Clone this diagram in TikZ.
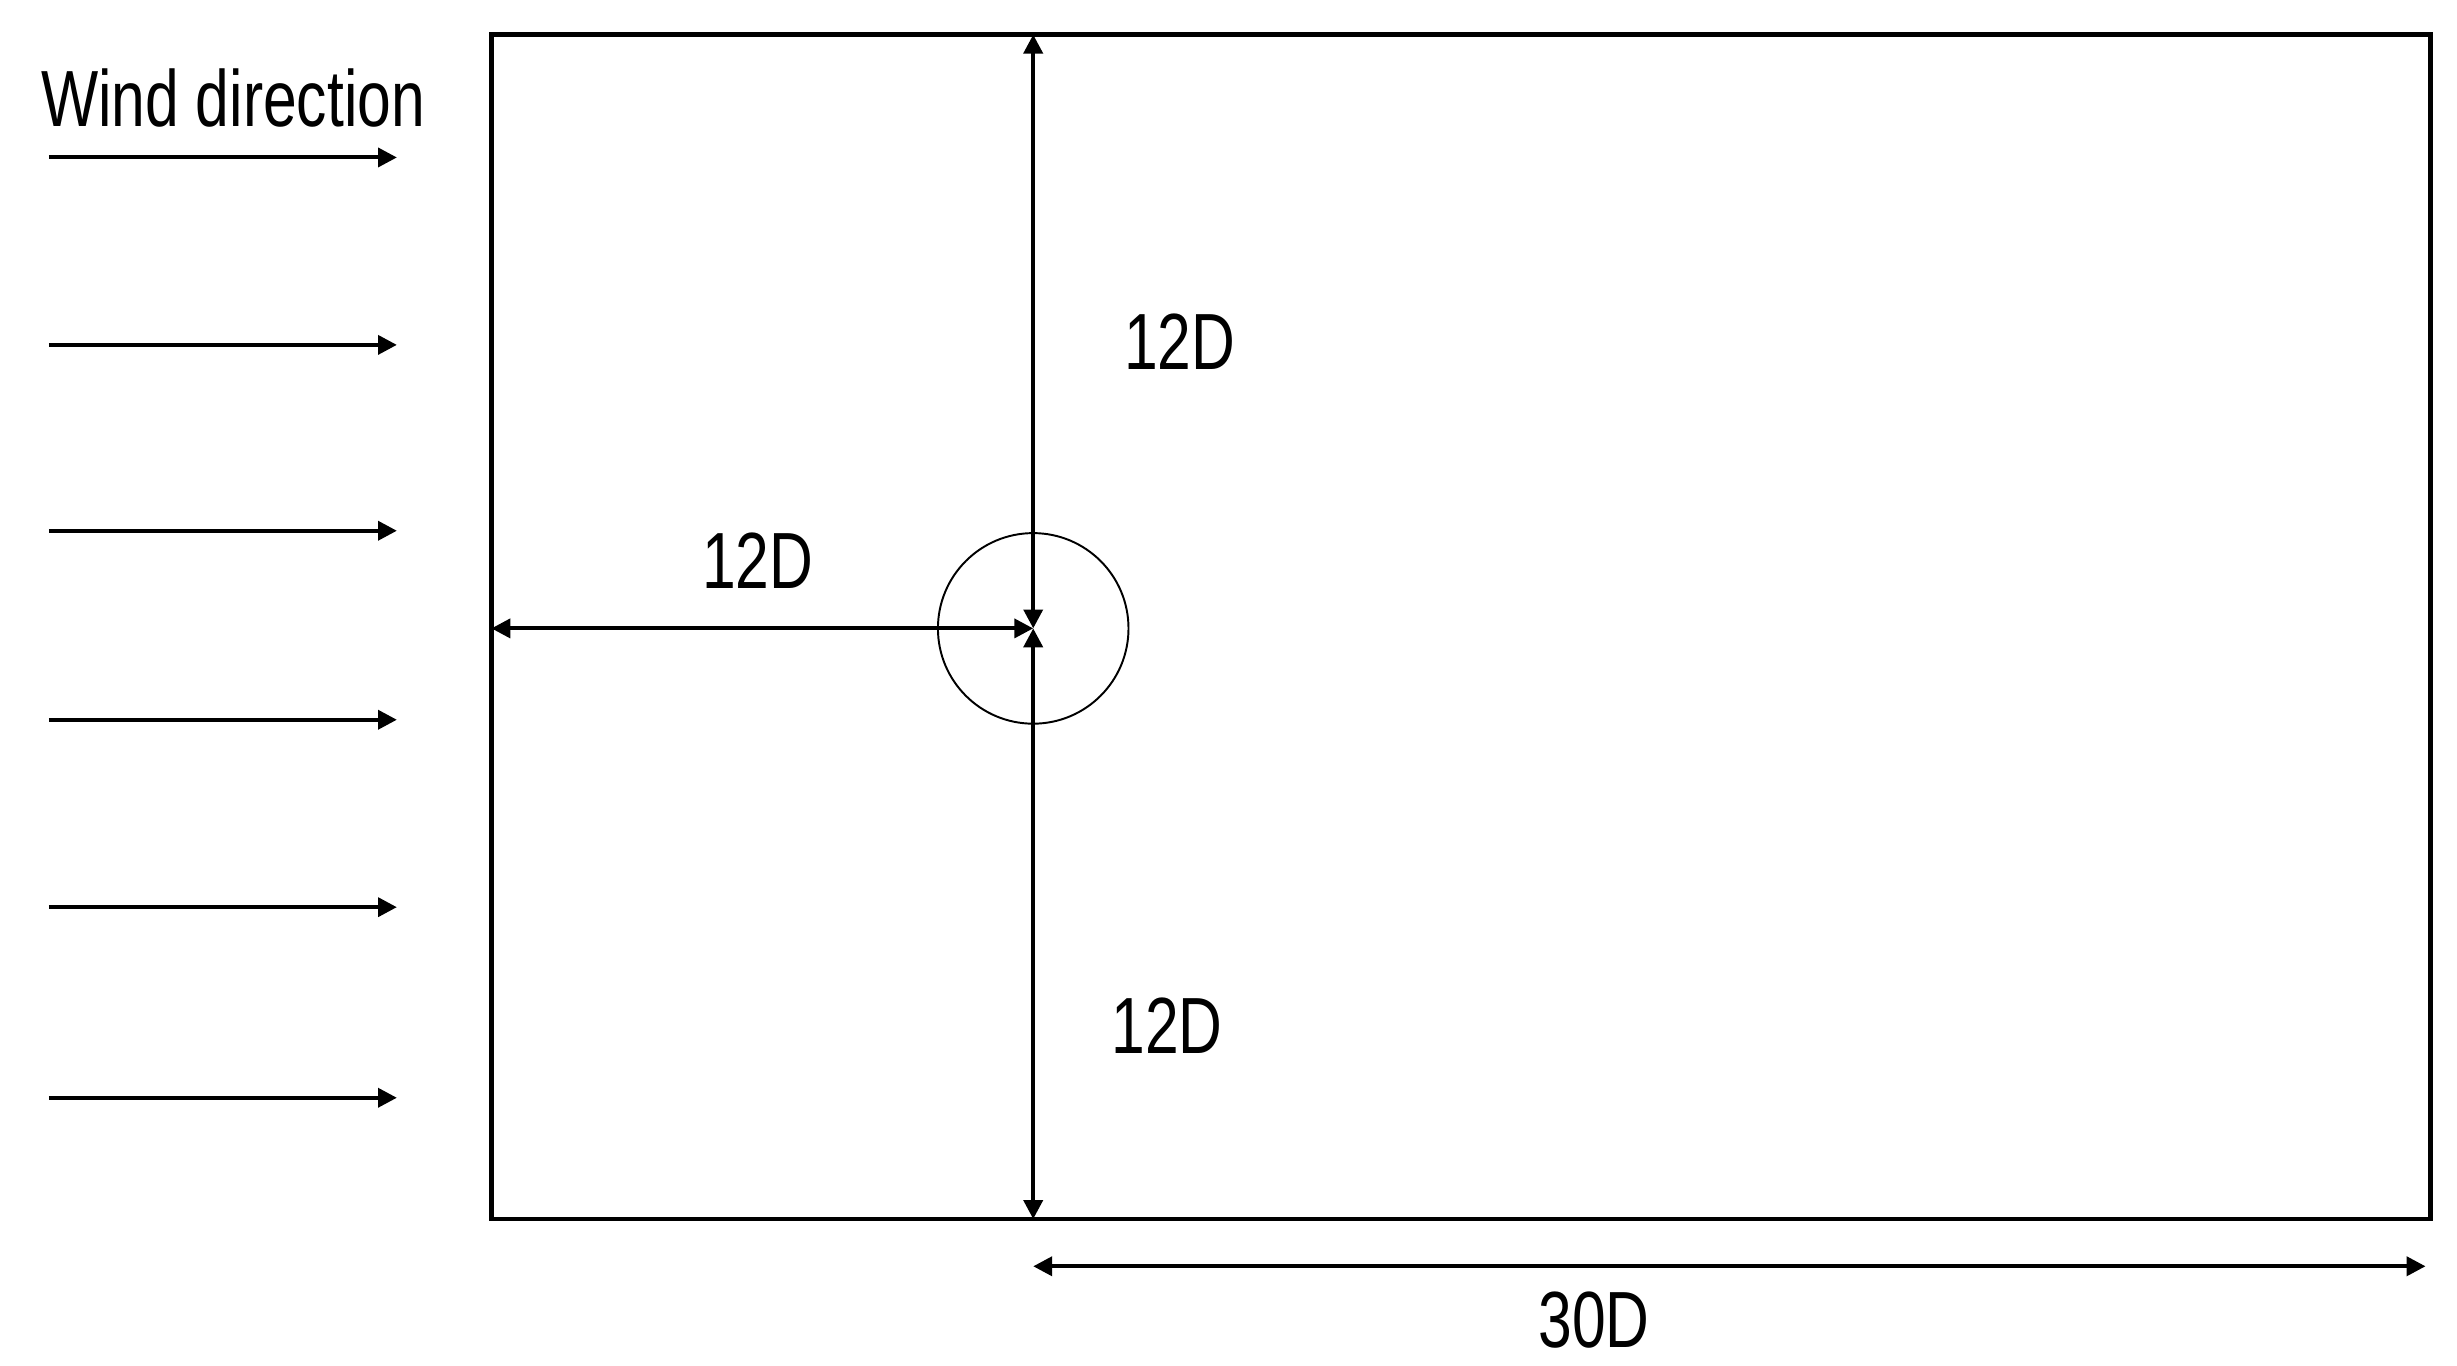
\documentclass[tikz,border=0pt]{standalone}
\usepackage{fontspec}
\setmainfont{Liberation Sans}[FakeStretch=0.76]
\usetikzlibrary{arrows.meta}

\begin{document}
\begin{tikzpicture}[>={Triangle[length=.12cm, width=.12cm]},
        dim/.style={<->, line width=.72pt},
        wind/.style={->, line width=.72pt},
        lbl/.style={font=\fontsize{14.4}{17}\selectfont, inner sep=0pt}]
        \useasboundingbox (0,0) rectangle (15.6,8.67);

        % domain
        \coordinate (sw) at (3.12,0.93);
        \coordinate (ne) at (15.43,8.45);
        \draw[line width=.85pt] (sw) rectangle (ne);

        % cylinder
        \coordinate (c) at (6.56,4.68);
        \draw[line width=.35pt] (c) circle (.605);
        \coordinate (top) at (c |- ne);
        \coordinate (bot) at (c |- sw);
        \coordinate (inlet) at (c -| sw);
        \draw[dim] (c) -- (top);
        \draw[dim] (c) -- (bot);
        \draw[dim] (inlet) -- (c);
        \coordinate (wake0) at (6.56,.63);
        \coordinate (wake1) at (15.40,.63);
        \draw[dim] (wake0) -- (wake1);

        \node[lbl] (up) at (7.49,6.50) {12D};
        \node[lbl] (front) at (4.81,5.11) {12D};
        \node[lbl] (down) at (7.41,2.16) {12D};
        \node[lbl] (len) at (10.12,.29) {30D};

        % wind
        \node[lbl] (wd) at (1.48,8.05) {Wind direction};
        \foreach \y [count=\i] in {7.67,6.48,5.30,4.10,2.91,1.70} {
            \coordinate (w\i a) at (.31,\y);
            \coordinate (w\i b) at (2.52,\y);
            \draw[wind] (w\i a) -- (w\i b);
        }

    \end{tikzpicture}
\end{document}
